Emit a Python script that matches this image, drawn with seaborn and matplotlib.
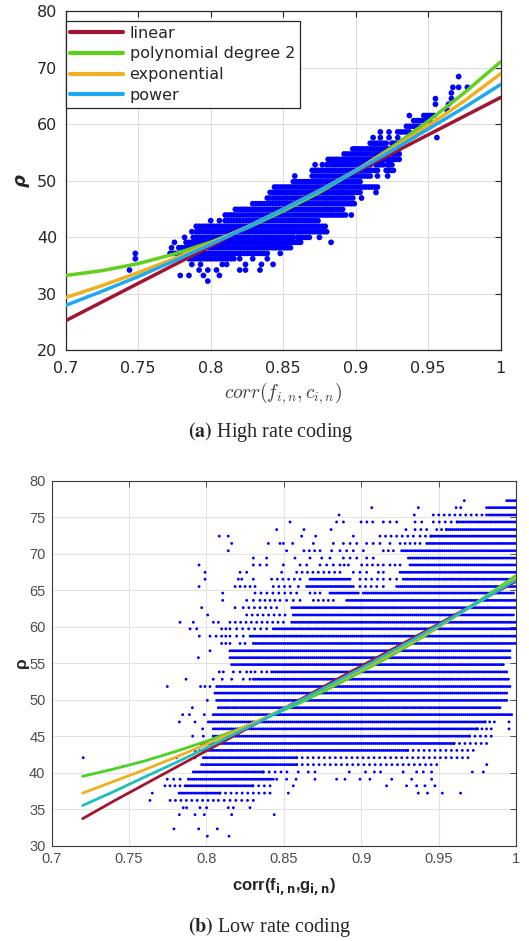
import numpy as np
import pandas as pd
import matplotlib
matplotlib.use("Agg")
import matplotlib.pyplot as plt
from matplotlib.ticker import FuncFormatter
import seaborn as sns

# ---------------- data: panel (a) high rate coding ----------------
# each row: (rho level, list of (x_start, x_end) runs of points)
TOP_ROWS = [
    (68.4, [(0.971, 0.971)]),
    (66.5, [(0.967, 0.967), (0.971, 0.971), (0.977, 0.977)]),
    (65.5, [(0.966, 0.966)]),
    (64.5, [(0.955, 0.955), (0.966, 0.966)]),
    (63.5, [(0.955, 0.955), (0.964, 0.964)]),
    (62.5, [(0.963, 0.963)]),
    (61.5, [(0.937, 0.937), (0.947, 0.954)]),
    (60.6, [(0.940, 0.951)]),
    (59.6, [(0.935, 0.944)]),
    (58.6, [(0.917, 0.917), (0.923, 0.923), (0.929, 0.937)]),
    (57.6, [(0.912, 0.912), (0.917, 0.917), (0.923, 0.923), (0.929, 0.929), (0.956, 0.956)]),
    (56.6, [(0.910, 0.921), (0.925, 0.930)]),
    (55.6, [(0.898, 0.930)]),
    (54.7, [(0.892, 0.930)]),
    (53.75, [(0.881, 0.930)]),
    (52.8, [(0.872, 0.872), (0.877, 0.877), (0.880, 0.910), (0.914, 0.919), (0.922, 0.925)]),
    (51.8, [(0.870, 0.915), (0.921, 0.926)]),
    (50.8, [(0.858, 0.858), (0.870, 0.910), (0.915, 0.915), (0.922, 0.922)]),
    (49.8, [(0.857, 0.903)]),
    (48.85, [(0.844, 0.915)]),
    (47.9, [(0.841, 0.903), (0.914, 0.914)]),
    (46.9, [(0.839, 0.898), (0.904, 0.904)]),
    (45.9, [(0.829, 0.899)]),
    (44.9, [(0.817, 0.891)]),
    (43.9, [(0.810, 0.891), (0.893, 0.893), (0.897, 0.897)]),
    (42.9, [(0.800, 0.800), (0.806, 0.806), (0.810, 0.874)]),
    (41.9, [(0.790, 0.879)]),
    (40.94, [(0.787, 0.787), (0.790, 0.880)]),
    (39.94, [(0.782, 0.782), (0.788, 0.857), (0.860, 0.868), (0.875, 0.875)]),
    (39.06, [(0.775, 0.775), (0.783, 0.862), (0.883, 0.883)]),
    (38.11, [(0.773, 0.773), (0.778, 0.855)]),
    (37.11, [(0.748, 0.748), (0.772, 0.779), (0.787, 0.839), (0.848, 0.848)]),
    (36.16, [(0.748, 0.748), (0.785, 0.816), (0.820, 0.820), (0.829, 0.829), (0.839, 0.839)]),
    (35.16, [(0.787, 0.787), (0.793, 0.793), (0.808, 0.808), (0.811, 0.811),
             (0.824, 0.824), (0.835, 0.835), (0.843, 0.843)]),
    (34.16, [(0.744, 0.744), (0.792, 0.792), (0.798, 0.798), (0.804, 0.804),
             (0.820, 0.820), (0.824, 0.824), (0.834, 0.834)]),
    (33.2, [(0.779, 0.779), (0.785, 0.785), (0.795, 0.795), (0.806, 0.806)]),
    (32.2, [(0.798, 0.798)]),
]

TOP_FIT_X = [0.700, 0.725, 0.750, 0.775, 0.800, 0.825, 0.850,
             0.875, 0.900, 0.925, 0.950, 0.975, 1.000]
TOP_LINEAR = [25.2, 28.5, 31.8, 35.1, 38.4, 41.7, 45.0, 48.3, 51.5, 54.8, 58.1, 61.4, 64.7]
TOP_POLY2 = [33.2, 34.05, 35.3, 37.0, 39.1, 41.6, 44.6, 47.9, 51.7, 55.9, 60.5, 65.55, 71.0]
TOP_EXP = [29.3, 31.4, 33.7, 36.2, 38.9, 41.8, 44.9, 48.2, 51.8, 55.6, 59.7, 64.1, 68.9]
TOP_POWER = [27.9, 30.4, 33.0, 35.8, 38.7, 41.7, 44.9, 48.2, 51.7, 55.3, 59.1, 62.95, 67.0]

# ---------------- data: panel (b) low rate coding ----------------
# each row: (rho level, dense runs, sparse runs / single points)
BOT_ROWS = [
    (77.26, [(0.994, 0.9995)], [(0.9666, 0.9666)]),
    (76.3, [(0.981, 0.9995)], [(0.9068, 0.9068), (0.9369, 0.9369), (0.9613, 0.9643)]),
    (75.3, [(0.981, 0.9995)], [(0.8857, 0.8857), (0.9343, 0.9343), (0.9466, 0.978)]),
    (74.34, [(0.962, 0.9995)], [(0.854, 0.8557), (0.8841, 0.8885), (0.8999, 0.9074),
                               (0.9143, 0.9229), (0.9348, 0.9391), (0.9466, 0.962)]),
    (73.3, [(0.955, 0.9995)], [(0.8454, 0.8454), (0.863, 0.863), (0.8805, 0.8805),
                              (0.9289, 0.9289), (0.9348, 0.9423), (0.9488, 0.955)]),
    (72.4, [(0.945, 0.9995)], [(0.8083, 0.8083), (0.8141, 0.8141), (0.8615, 0.8615),
                              (0.8706, 0.8706), (0.8949, 0.8949), (0.9121, 0.9337),
                              (0.938, 0.945)]),
    (71.4, [(0.9423, 0.9995)], [(0.8163, 0.8163), (0.84, 0.84), (0.8475, 0.8497),
                               (0.8557, 0.8557), (0.8691, 0.8691), (0.882, 0.882),
                               (0.8885, 0.8971), (0.9035, 0.9121), (0.9186, 0.9186),
                               (0.9251, 0.938)]),
    (70.4, [(0.9261, 0.9995)], [(0.8141, 0.8141), (0.8518, 0.8518), (0.863, 0.8734),
                               (0.8809, 0.8809), (0.8863, 0.8949), (0.9014, 0.9014),
                               (0.9143, 0.9208)]),
    (69.4, [(0.9305, 0.9995)], [(0.8303, 0.8303), (0.8389, 0.8389), (0.8572, 0.8572),
                               (0.8669, 0.8669), (0.8745, 0.8798), (0.8885, 0.8971),
                               (0.9035, 0.9078)]),
    (68.45, [(0.9315, 0.9995)], [(0.7952, 0.7952), (0.8303, 0.8389), (0.8497, 0.8497),
                                (0.8605, 0.8648), (0.8734, 0.882), (0.8863, 0.8917),
                                (0.9003, 0.9143), (0.9186, 0.9251)]),
    (67.45, [(0.9251, 0.9995)], [(0.7991, 0.7991), (0.8217, 0.826), (0.8486, 0.8486),
                                (0.8583, 0.8863), (0.8949, 0.9035), (0.9111, 0.9143)]),
    (66.5, [(0.8669, 0.8928), (0.9272, 0.9995)], [(0.7991, 0.7991), (0.8206, 0.8228),
                                                 (0.8303, 0.8303), (0.8421, 0.8605),
                                                 (0.8992, 0.9143), (0.9186, 0.9229)]),
    (65.5, [(0.8648, 0.8949), (0.9229, 0.9995)], [(0.7952, 0.7952), (0.8185, 0.8314),
                                                 (0.8432, 0.854), (0.8594, 0.8594),
                                                 (0.8992, 0.91), (0.9143, 0.9143)]),
    (64.6, [(0.8798, 0.8981), (0.9014, 0.9983)], [(0.8105, 0.8105), (0.8314, 0.8583),
                                                 (0.8669, 0.8734)]),
    (63.6, [(0.8906, 0.9995)], [(0.8105, 0.8105), (0.826, 0.8303), (0.8346, 0.8475),
                               (0.8518, 0.8605), (0.8691, 0.882)]),
    (62.6, [(0.8551, 0.9995)], [(0.7969, 0.7969), (0.8185, 0.8185), (0.8238, 0.8454)]),
    (61.6, [(0.8561, 0.9983)], [(0.8008, 0.8008), (0.826, 0.8508)]),
    (60.6, [(0.8551, 0.9995)], [(0.7829, 0.7829), (0.7915, 0.7915), (0.8045, 0.8077),
                               (0.8152, 0.8497)]),
    (59.7, [(0.8432, 0.9995)], [(0.7894, 0.7894), (0.7937, 0.7937), (0.8098, 0.8152),
                               (0.8195, 0.8389)]),
    (58.7, [(0.8282, 0.9995)], [(0.7954, 0.7954), (0.8023, 0.8023), (0.8062, 0.8062),
                               (0.8098, 0.8152), (0.8195, 0.8238)]),
    (57.7, [(0.8303, 0.9995)], [(0.8098, 0.8152), (0.8217, 0.8217), (0.8249, 0.8249)]),
    (56.7, [(0.8152, 0.9961)], [(0.8023, 0.8023)]),
    (55.75, [(0.8152, 0.9961)], [(0.7948, 0.7948)]),
    (54.8, [(0.8163, 0.9918)], []),
    (53.8, [(0.8421, 0.994)], [(0.8083, 0.8109), (0.8174, 0.8217), (0.826, 0.8314),
                              (0.8357, 0.839)]),
    (52.8, [(0.8303, 0.9951)], [(0.7868, 0.7868), (0.8044, 0.8044), (0.8102, 0.8102),
                               (0.8163, 0.8163), (0.8238, 0.8281)]),
    (51.8, [(0.8066, 0.9961)], [(0.7747, 0.7747), (0.7962, 0.799), (0.8023, 0.8023)]),
    (50.9, [(0.8055, 0.994)], []),
    (49.9, [(0.8066, 0.994)], [(0.8006, 0.8006)]),
    (48.9, [(0.8077, 0.9897)], [(0.7909, 0.7909)]),
    (47.95, [(0.8044, 0.9961)], [(0.7846, 0.7846), (0.789, 0.789), (0.7986, 0.7986),
                                (0.9972, 0.9972)]),
    (46.95, [(0.8012, 0.980)], [(0.7825, 0.7825), (0.7926, 0.7926), (0.980, 0.986),
                               (0.9955, 0.9955)]),
    (46.0, [(0.8044, 0.975)], [(0.7975, 0.7975), (0.975, 0.984), (0.9955, 0.9955)]),
    (45.0, [(0.8044, 0.970)], [(0.7911, 0.7911), (0.798, 0.798), (0.970, 0.984)]),
    (44.0, [(0.7958, 0.960)], [(0.960, 0.981)]),
    (43.05, [(0.7958, 0.930)], [(0.7926, 0.7926), (0.930, 0.9724)]),
    (42.05, [(0.798, 0.8583)], [(0.7204, 0.7204), (0.7807, 0.7807), (0.7926, 0.7926),
                               (0.8583, 0.969)]),
    (41.1, [(0.7969, 0.8583)], [(0.8583, 0.9488), (0.9811, 0.9811)]),
    (40.1, [(0.7915, 0.8367)], [(0.8367, 0.852), (0.8593, 0.8593), (0.8658, 0.8658),
                               (0.8701, 0.8701), (0.8923, 0.8923), (0.9028, 0.9028),
                               (0.9085, 0.9085), (0.9125, 0.9125), (0.9271, 0.9271),
                               (0.9358, 0.9401), (0.9455, 0.9455), (0.9718, 0.9718),
                               (0.9789, 0.9789)]),
    (39.1, [(0.7883, 0.8432)], [(0.7747, 0.783), (0.8454, 0.8454), (0.8518, 0.8518),
                               (0.8579, 0.8579), (0.8701, 0.8701), (0.8841, 0.8841),
                               (0.8895, 0.8895), (0.8992, 0.8992), (0.9056, 0.9056),
                               (0.9197, 0.9197), (0.9326, 0.9326), (0.9455, 0.9455)]),
    (38.2, [(0.7862, 0.8300)], [(0.7732, 0.7829), (0.8300, 0.8411), (0.8561, 0.8561),
                               (0.9164, 0.9164), (0.9293, 0.9293), (0.9358, 0.9358),
                               (0.9412, 0.9412), (0.9476, 0.9476)]),
    (37.2, [(0.7823, 0.8087)], [(0.7650, 0.7650), (0.8087, 0.8411), (0.8529, 0.8529),
                               (0.9369, 0.9369), (0.9428, 0.9428), (0.9524, 0.9524),
                               (0.9642, 0.9642)]),
    (36.2, [], [(0.7635, 0.7635), (0.7765, 0.8045), (0.8077, 0.8303)]),
    (35.2, [], [(0.7850, 0.7872), (0.7958, 0.7958), (0.8001, 0.8001), (0.8141, 0.8174),
                (0.8281, 0.8281)]),
    (34.25, [], [(0.7825, 0.7825), (0.7926, 0.7926), (0.7986, 0.7986), (0.8163, 0.8163),
                 (0.8438, 0.8438)]),
    (32.3, [], [(0.779, 0.779), (0.795, 0.795), (0.807, 0.807)]),
    (31.3, [], [(0.8006, 0.8006), (0.8146, 0.8146)]),
]

BOT_FIT_X = [0.72, 0.74, 0.76, 0.78, 0.80, 0.82, 0.84, 0.86,
             0.88, 0.90, 0.92, 0.94, 0.96, 0.98, 1.00]
BOT_LINEAR = [33.7, 36.1, 38.4, 40.7, 43.0, 45.3, 47.65, 49.95,
              52.3, 54.6, 56.9, 59.2, 61.55, 63.9, 66.2]
BOT_POLY2 = [39.5, 40.5, 41.6, 42.9, 44.3, 45.9, 47.65, 49.5,
             51.6, 53.8, 56.1, 58.6, 61.3, 64.1, 67.0]
BOT_EXP = [37.2, 38.8, 40.4, 42.1, 43.9, 45.8, 47.75, 49.8,
           51.9, 54.1, 56.4, 58.8, 61.3, 63.9, 66.6]
BOT_POWER = [35.5, 37.4, 39.4, 41.35, 43.4, 45.5, 47.6, 49.8,
             52.05, 54.3, 56.65, 59.0, 61.4, 63.9, 66.4]

MODELS = ["linear", "polynomial degree 2", "exponential", "power"]
TOP_COLORS = ["#A2142F", "#5FD11A", "#EDB120", "#1EA9F0"]
BOT_COLORS = ["#A2142F", "#49D422", "#EDB120", "#19BFC2"]


def expand(rows, dense_step, sparse_step):
    xs, ys = [], []
    for row in rows:
        y = row[0]
        groups = [(row[1], dense_step)]
        if len(row) > 2:
            groups.append((row[2], sparse_step))
        for runs, step in groups:
            for a, b in runs:
                n = max(1, int(round((b - a) / step)) + 1)
                pts = np.linspace(a, b, n)
                xs.extend(pts)
                ys.extend([y] * n)
    return pd.DataFrame({"x": xs, "y": ys})


def fits_frame(xv, series):
    frames = []
    for name, vals in zip(MODELS, series):
        frames.append(pd.DataFrame({"x": xv, "y": vals, "model": name}))
    return pd.concat(frames, ignore_index=True)


top_pts = expand(TOP_ROWS, 0.002, 0.002)
bot_pts = expand(BOT_ROWS, 0.0013, 0.0036)
top_fit = fits_frame(TOP_FIT_X, [TOP_LINEAR, TOP_POLY2, TOP_EXP, TOP_POWER])
bot_fit = fits_frame(BOT_FIT_X, [BOT_LINEAR, BOT_POLY2, BOT_EXP, BOT_POWER])

sns.set_theme(style="white")
plt.rcParams["font.family"] = ["DejaVu Sans"]
plt.rcParams["mathtext.fontset"] = "cm"

fig = plt.figure(figsize=(5.29, 9.41), dpi=100)
ax1 = fig.add_axes([0.1242, 0.628, 0.8223, 0.3603])
ax2 = fig.add_axes([0.0977, 0.1013, 0.8777, 0.3879])

fmt = FuncFormatter(lambda v, p: "%g" % round(v, 4))

# ---------- panel (a) ----------
sns.scatterplot(data=top_pts, x="x", y="y", ax=ax1, color="#0000FF", s=17,
                linewidth=0, edgecolor="none", legend=False, zorder=2)
sns.lineplot(data=top_fit, x="x", y="y", hue="model", hue_order=MODELS,
             palette=TOP_COLORS, ax=ax1, linewidth=2.5, estimator=None,
             sort=True, zorder=3)
ax1.set_xlim(0.7, 1.0)
ax1.set_ylim(20, 80)
ax1.set_xticks([0.7, 0.75, 0.8, 0.85, 0.9, 0.95, 1.0])
ax1.set_yticks([20, 30, 40, 50, 60, 70, 80])
ax1.xaxis.set_major_formatter(fmt)
ax1.grid(True, color="#DDDDDD", linewidth=0.8)
ax1.set_axisbelow(True)
for sp in ax1.spines.values():
    sp.set_color("#262626")
    sp.set_linewidth(0.9)
ax1.tick_params(direction="in", length=4, width=0.8, top=True, right=True,
                labelsize=11.5, colors="#262626", pad=6)
ax1.tick_params(axis="x", pad=8)
ax1.set_xlabel(r"$corr(f_{i,n},c_{i,n})$", fontsize=14, color="#404040", labelpad=3)
ax1.set_ylabel("ρ", fontsize=13, fontstyle="italic", fontweight="bold",
               color="#262626", labelpad=5)
handles, labels = ax1.get_legend_handles_labels()
leg = ax1.legend(handles, labels, loc="upper left", bbox_to_anchor=(0.0, 0.971),
                 fontsize=11.5, frameon=True, fancybox=False, framealpha=1,
                 edgecolor="#262626", borderpad=0.3, labelspacing=0.36,
                 handlelength=3.3, handletextpad=0.4, borderaxespad=0.0)
leg.get_frame().set_linewidth(0.9)
for ln in leg.get_lines():
    ln.set_linewidth(3)

# ---------- panel (b) ----------
sns.scatterplot(data=bot_pts, x="x", y="y", ax=ax2, color="#0000FF", s=4.2,
                linewidth=0, edgecolor="none", legend=False, zorder=2)
sns.lineplot(data=bot_fit, x="x", y="y", hue="model", hue_order=MODELS,
             palette=BOT_COLORS, ax=ax2, linewidth=2.0, estimator=None,
             sort=True, legend=False, zorder=3)
ax2.set_xlim(0.7, 1.0)
ax2.set_ylim(30, 80)
ax2.set_xticks([0.7, 0.75, 0.8, 0.85, 0.9, 0.95, 1.0])
ax2.set_yticks([30, 35, 40, 45, 50, 55, 60, 65, 70, 75, 80])
ax2.xaxis.set_major_formatter(fmt)
ax2.grid(True, color="#E3E3E3", linewidth=0.8)
ax2.set_axisbelow(True)
for sp in ax2.spines.values():
    sp.set_color("#3A3A3A")
    sp.set_linewidth(0.8)
ax2.tick_params(direction="in", length=4, width=0.7, top=True, right=True,
                labelsize=10.5, colors="#4D4D4D", pad=4.5)
for lab in ax2.get_xticklabels() + ax2.get_yticklabels():
    lab.set_family("Liberation Sans")
ax2.set_xlabel(r"corr(f$_{\mathbf{i,n}}$,g$_{\mathbf{i,n}}$)", fontsize=12,
               fontweight="bold", family="Liberation Sans", math_fontfamily="dejavusans",
               color="#262626", labelpad=7)
ax2.set_ylabel("ρ", fontsize=12.5, fontweight="bold", family="Liberation Sans",
               color="#262626", labelpad=0)

# ---------- captions ----------
fig.text(0.512, 1 - 432 / 941, r"$\mathbf{(a)}$ High rate coding", ha="center",
         va="center", fontsize=14.5, family="Liberation Serif", math_fontfamily="stix")
fig.text(0.510, 1 - 927 / 941, r"$\mathbf{(b)}$ Low rate coding", ha="center",
         va="center", fontsize=14.5, family="Liberation Serif", math_fontfamily="stix")

fig.savefig("out.png", dpi=100)
